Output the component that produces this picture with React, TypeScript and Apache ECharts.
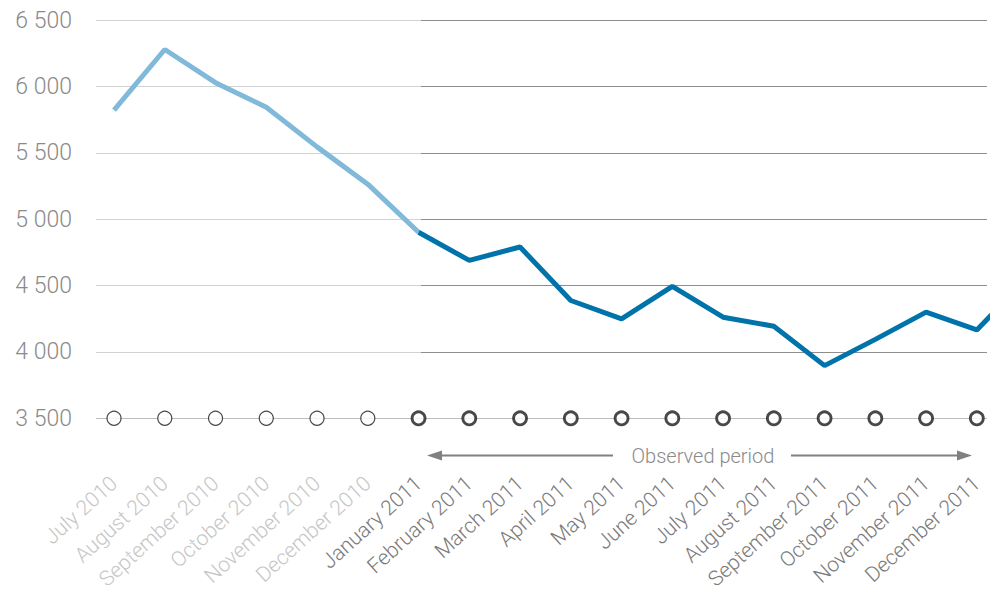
import React, { useEffect, useRef } from "react";
import * as echarts from "echarts";

const categories = [
  "July 2010", "August 2010", "September 2010", "October 2010", "November 2010", "December 2010",
  "January 2011", "February 2011", "March 2011", "April 2011", "May 2011", "June 2011",
  "July 2011", "August 2011", "September 2011", "October 2011", "November 2011", "December 2011",
];
const earlyValues = [5823, 6280, 6030, 5845, 5546, 5265, 4902];
const observedValues = [4902, 4690, 4791, 4388, 4249, 4494, 4262, 4194, 3897, 4095, 4300, 4166, 4560];
const observedStart = 6;
const yTicks = [3500, 4000, 4500, 5000, 5500, 6000, 6500];
const baseValue = 3500;
const periodLabel = "Observed period";

const FONT = "Roboto";

export default function App() {
  const ref = useRef<HTMLDivElement>(null);
  useEffect(() => {
    if (!ref.current) return;
    const chart = echarts.init(ref.current, null, { renderer: "svg" });
    const idx = categories.map((_, i) => i);
    const fmtY = (v: number) => `${Math.floor(v / 1000)} ${String(v % 1000).padStart(3, "0")}`;
    const yMin = yTicks[0];
    const yMax = yTicks[yTicks.length - 1];
    const interval = yTicks[1] - yTicks[0];
    const lightGrid = yTicks.map((t, i) => (i === 0 ? "#bdbdbd" : "#d2d2d2"));
    const darkGrid = yTicks.map((t, i) => (i === 0 ? "rgba(0,0,0,0)" : "#8e8e8e"));

    chart.setOption({
      animation: false,
      grid: [
        { left: 96, right: 6, top: 20.3, bottom: 176.7, outerBoundsMode: "none", containLabel: false },
        { left: 421, right: 6, top: 20.3, bottom: 176.7, outerBoundsMode: "none", containLabel: false },
      ],
      xAxis: [
        {
          type: "value",
          gridIndex: 0,
          min: -0.355,
          max: 17.2,
          axisLine: { show: false },
          axisTick: { show: false },
          splitLine: { show: false },
          axisLabel: {
            customValues: idx,
            rotate: 42,
            margin: 62,
            fontFamily: FONT,
            fontWeight: 300,
            fontSize: 21,
            formatter: (v: number) => {
              const i = Math.round(v);
              const name = categories[i] ?? "";
              return i < observedStart ? `{a|${name}}` : `{b|${name}}`;
            },
            rich: {
              a: { color: "#c6c6c6", fontFamily: FONT, fontWeight: 300, fontSize: 21 },
              b: { color: "#7a7a7a", fontFamily: FONT, fontWeight: 300, fontSize: 21 },
            },
          },
        },
        { type: "value", gridIndex: 1, show: false, min: 0, max: 1 },
      ],
      yAxis: [
        {
          type: "value",
          gridIndex: 0,
          min: yMin,
          max: yMax,
          interval,
          axisLine: { show: false },
          axisTick: { show: false },
          axisLabel: {
            margin: 24,
            fontFamily: FONT,
            fontWeight: 300,
            fontSize: 23,
            color: "#8a8a8a",
            formatter: fmtY,
          },
          splitLine: { show: true, lineStyle: { color: lightGrid, width: 1 } },
        },
        {
          type: "value",
          gridIndex: 1,
          min: yMin,
          max: yMax,
          interval,
          axisLine: { show: false },
          axisTick: { show: false },
          axisLabel: { show: false },
          splitLine: { show: true, lineStyle: { color: darkGrid, width: 1 } },
        },
      ],
      series: [
        {
          type: "line",
          xAxisIndex: 0,
          yAxisIndex: 0,
          data: earlyValues.map((v, i) => [i, v]),
          showSymbol: false,
          lineStyle: { color: "#80b9d9", width: 5 },
          clip: true,
          z: 3,
        },
        {
          type: "line",
          xAxisIndex: 0,
          yAxisIndex: 0,
          data: observedValues.map((v, i) => [i + observedStart, v]),
          showSymbol: false,
          lineStyle: { color: "#0073aa", width: 5 },
          clip: true,
          z: 4,
        },
        {
          type: "scatter",
          xAxisIndex: 0,
          yAxisIndex: 0,
          data: idx.filter((i) => i < observedStart).map((i) => [i, baseValue]),
          symbol: "circle",
          symbolSize: 14,
          itemStyle: { color: "#ffffff", borderColor: "#1a1a1a", borderWidth: 1.2 },
          z: 5,
        },
        {
          type: "scatter",
          xAxisIndex: 0,
          yAxisIndex: 0,
          data: idx.filter((i) => i >= observedStart).map((i) => [i, baseValue]),
          symbol: "circle",
          symbolSize: 13,
          itemStyle: { color: "#ffffff", borderColor: "#1a1a1a", borderWidth: 2.8 },
          z: 5,
        },
      ],
      graphic: [
        { type: "line", shape: { x1: 436, y1: 455.5, x2: 613, y2: 455.5 }, style: { stroke: "#808080", lineWidth: 2 } },
        { type: "polygon", shape: { points: [[427, 455.5], [442, 450.5], [442, 460.5]] }, style: { fill: "#808080" } },
        { type: "line", shape: { x1: 791, y1: 455.5, x2: 963, y2: 455.5 }, style: { stroke: "#808080", lineWidth: 2 } },
        { type: "polygon", shape: { points: [[972, 455.5], [957, 450.5], [957, 460.5]] }, style: { fill: "#808080" } },
        {
          type: "text",
          x: 703,
          y: 456,
          style: {
            text: periodLabel,
            align: "center",
            verticalAlign: "middle",
            fill: "#8a8a8a",
            fontFamily: FONT,
            fontWeight: 300,
            fontSize: 20,
          },
        },
      ],
    });
    return () => chart.dispose();
  }, []);
  return <div ref={ref} style={{ width: 993, height: 595, position: "absolute", left: 0, top: 0 }} />;
}
